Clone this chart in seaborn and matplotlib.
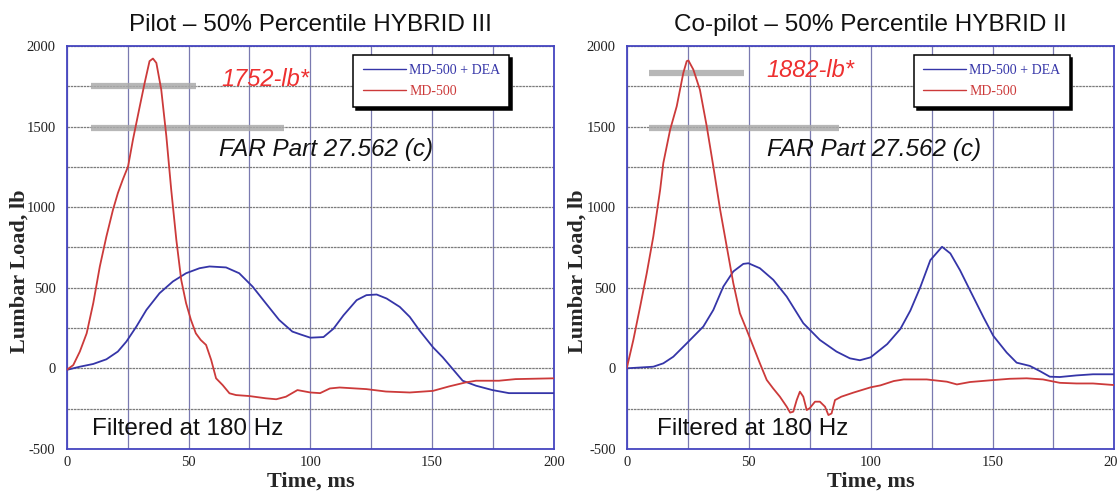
import numpy as np
import pandas as pd
import matplotlib
matplotlib.use("Agg")
import matplotlib.pyplot as plt
import seaborn as sns

# ---------------- data ----------------
pilot_red_t = [0, 2.7, 5.4, 8.2, 10.9, 13.6, 16.3, 19, 21, 23, 25.2, 27.2, 30, 32, 34, 35.4, 36.8,
               38.8, 40.9, 42.9, 45, 47, 49, 51, 53, 55, 57.2, 59.3, 61.3, 64, 66.8, 69.5, 74.9,
               81.7, 86, 90, 94.7, 100, 104, 108, 112, 123, 131, 140.8, 150.3, 157, 163.9, 168,
               177.4, 184.2, 200]
pilot_red_v = [-10, 20, 104, 217, 404, 632, 818, 984, 1087, 1170, 1253, 1419, 1626, 1771, 1906, 1922,
               1895, 1730, 1440, 1108, 797, 549, 404, 300, 217, 176, 145, 52, -62, -104, -155, -166,
               -172, -186, -192, -176, -135, -150, -154, -125, -119, -129, -144, -150, -140, -112,
               -87, -77, -77, -67, -62]

pilot_blue_t = [0, 5.4, 10.9, 16.3, 21, 24.5, 28.6, 32.7, 38.1, 43.6, 49, 54.5, 58.6, 65.4, 70.8,
                76.3, 81.7, 87.2, 92.6, 96, 100, 105.4, 109.5, 113.6, 119, 123, 127.2, 131.3, 136.7,
                140.8, 144.8, 150.3, 154.3, 158.4, 162.5, 168, 174.7, 181.5, 200]
pilot_blue_v = [-10, 10, 27, 56, 104, 166, 259, 362, 466, 539, 590, 621, 632, 626, 590, 507, 404,
                300, 228, 210, 190, 194, 246, 329, 423, 454, 458, 433, 381, 319, 235, 131, 69, -4,
                -77, -108, -135, -154, -154]

copilot_red_t = [0, 2.7, 5.5, 8.2, 10.9, 13.7, 15, 17.8, 20.5, 23.2, 24.6, 25.3, 27.3, 30, 32.8,
                 35.5, 38.3, 41, 43.7, 46.4, 49.2, 51.9, 54.6, 57.4, 60, 62.8, 65.6, 67, 68.3, 69.7,
                 71, 72.4, 73.8, 75, 77.2, 79.2, 81.3, 82.7, 84, 85.4, 88, 92.9, 100, 104, 109.5,
                 113.6, 123, 131.3, 135.4, 140.8, 150.3, 157, 164, 170.7, 177.6, 184.4, 191.2, 200]
copilot_red_v = [0, 176, 383, 590, 818, 1108, 1274, 1481, 1626, 1833, 1906, 1910, 1854, 1729, 1502,
                 1253, 984, 756, 528, 342, 238, 135, 31, -72, -124, -176, -238, -275, -269, -197,
                 -145, -176, -259, -248, -207, -207, -238, -290, -280, -197, -176, -151, -118, -106,
                 -79, -69, -69, -83, -100, -85, -73, -65, -62, -69, -90, -94, -94, -104]

copilot_blue_t = [0, 10.9, 15, 19.1, 24.6, 31.4, 35.5, 39.6, 43.7, 47.8, 49.9, 54.6, 60.1, 65.6,
                  72.4, 79.2, 86, 91.5, 95.6, 100, 106.8, 112.2, 116.3, 120.4, 124.5, 129.3, 132.7,
                  136.7, 140.8, 146.3, 150.3, 155.8, 159.9, 165.3, 169.4, 173.5, 177.6, 184.4,
                  191.2, 200]
copilot_blue_v = [0, 10, 31, 72, 155, 259, 362, 507, 601, 648, 652, 621, 549, 445, 280, 176, 104,
                  62, 50, 68, 150, 244, 358, 504, 671, 754, 713, 608, 483, 317, 202, 98, 35, 15,
                  -17, -52, -54, -44, -37, -37]

series_names = ["MD-500 + DEA", "MD-500"]
titles = ["Pilot \u2013 50% Percentile HYBRID III", "Co-pilot \u2013 50% Percentile HYBRID II"]
peak_labels = ["1752-lb*", "1882-lb*"]
peak_limits = [1752, 1830]
far_limit = 1490
far_label = "FAR Part 27.562 (c)"
filter_label = "Filtered at 180 Hz"
x_ticks = [0, 50, 100, 150, 200]
y_ticks = [-500, 0, 500, 1000, 1500, 2000]

colors = {"MD-500 + DEA": "#3535a8", "MD-500": "#cc3a3a"}

# ---------------- figure ----------------
sns.set_style("white")
plt.rcParams["font.family"] = ["Liberation Serif", "DejaVu Serif"]
plt.rcParams["axes.unicode_minus"] = False

fig = plt.figure(figsize=(11.17, 4.94), dpi=100)
ax_pos = [[0.0597, 0.0913, 0.4363, 0.8156], [0.5611, 0.0913, 0.4366, 0.8156]]

panels = [
    (pilot_blue_t, pilot_blue_v, pilot_red_t, pilot_red_v),
    (copilot_blue_t, copilot_blue_v, copilot_red_t, copilot_red_v),
]
peak_text_xy = [(81.5, 1790), (75.5, 1850)]
peak_bar_x = [(10, 53), (9, 48)]
far_bar_x = [(10, 89), (9, 87)]
far_text_xy = [(106.5, 1360), (101.5, 1360)]
filt_text_xy = [(49.5, -375), (51.5, -375)]
ylabel_x = [-0.077, -0.081]

for i, (bt, bv, rt, rv) in enumerate(panels):
    ax = fig.add_axes(ax_pos[i])
    df = pd.concat([
        pd.DataFrame({"Time": bt, "Load": bv, "Series": series_names[0]}),
        pd.DataFrame({"Time": rt, "Load": rv, "Series": series_names[1]}),
    ])
    # grey reference bars (beneath curves)
    ax.plot(peak_bar_x[i], [peak_limits[i]] * 2, color="#ababab", lw=4.5, alpha=0.85,
            solid_capstyle="butt", zorder=2)
    ax.plot(far_bar_x[i], [far_limit] * 2, color="#ababab", lw=4.5, alpha=0.85,
            solid_capstyle="butt", zorder=2)

    sns.lineplot(data=df, x="Time", y="Load", hue="Series", palette=colors,
                 hue_order=series_names, estimator=None, sort=False, ax=ax, zorder=3,
                 linewidth=1.3)

    ax.set_xlim(0, 200)
    ax.set_ylim(-500, 2000)
    ax.set_xticks(x_ticks)
    ax.set_yticks(y_ticks)
    ax.set_xticks(np.arange(0, 201, 25), minor=True)
    ax.set_yticks(np.arange(-500, 2001, 250), minor=True)
    ax.grid(True, which="both", axis="x", color="#7a7ab0", lw=0.9)
    ax.grid(True, which="both", axis="y", color="#7c7c7c", lw=0.9, ls=(0, (2, 0.6)))
    ax.set_axisbelow(True)
    ax.tick_params(axis="both", which="both", length=0, labelsize=10.5, labelcolor="#222222")
    ax.tick_params(axis="y", pad=8)
    ax.tick_params(axis="x", pad=5)
    for sp in ax.spines.values():
        sp.set_color("#4545c0")
        sp.set_linewidth(1.3)

    ax.set_xlabel("Time, ms", fontsize=16, fontweight="bold", labelpad=2)
    ax.set_ylabel("Lumbar Load, lb", fontsize=16, fontweight="bold")
    ax.yaxis.set_label_coords(ylabel_x[i], 0.44)
    ax.set_title(titles[i], fontsize=17.5, family=["Liberation Sans", "DejaVu Sans"], pad=11,
                 color="#111111")

    ax.text(*peak_text_xy[i], peak_labels[i], color="#ee3030", fontsize=17, style="italic",
            family=["Liberation Sans", "DejaVu Sans"], ha="center", va="center", zorder=4)
    ax.text(*far_text_xy[i], far_label, color="#111111", fontsize=17.5, style="italic",
            family=["Liberation Sans", "DejaVu Sans"], ha="center", va="center", zorder=4)
    ax.text(*filt_text_xy[i], filter_label, color="#111111", fontsize=17.5,
            family=["Liberation Sans", "DejaVu Sans"], ha="center", va="center", zorder=4)

    handles, labels = ax.get_legend_handles_labels()
    leg = ax.legend(handles, labels, loc="upper right", bbox_to_anchor=(0.908, 0.978),
                    borderaxespad=0, frameon=True, fancybox=False,
                    shadow={"color": "black", "alpha": 1.0}, fontsize=10,
                    handlelength=3.1, handletextpad=0.25, labelspacing=0.6, borderpad=0.65)
    leg.get_frame().set_edgecolor("black")
    leg.get_frame().set_linewidth(1.1)
    leg.get_frame().set_alpha(1.0)
    for txt, name in zip(leg.get_texts(), labels):
        txt.set_color(colors[name])
    for h in leg.get_lines():
        h.set_linewidth(1.0)

fig.savefig("out.png", dpi=100, facecolor="white")
